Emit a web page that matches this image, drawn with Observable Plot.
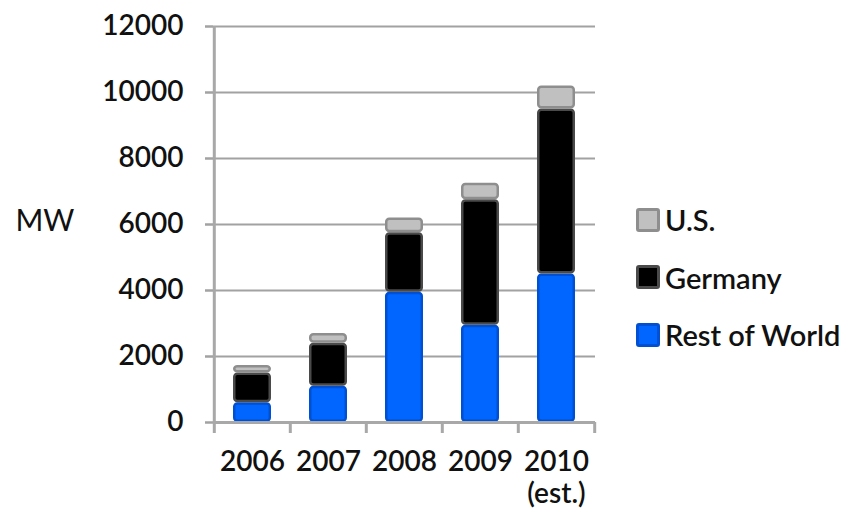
<!DOCTYPE html>
<html>
<head>
<meta charset="utf-8">
<script src="https://cdn.jsdelivr.net/npm/d3@7"></script>
<script src="https://cdn.jsdelivr.net/npm/@observablehq/plot@0.6"></script>
<style>
  body { margin: 0; background: #fff; font-family: Lato, "Open Sans", sans-serif; }
  #wrap { position: relative; width: 846px; height: 532px; overflow: hidden; }
  #legend { position: absolute; left: 636px; top: 191px; }
  .item { display: flex; align-items: center; height: 57.5px; font-size: 29px; font-weight: 600; color: #111; white-space: nowrap; }
  .sw { width: 24px; height: 24px; box-sizing: border-box; border-radius: 3px; margin-right: 5px; }
</style>
</head>
<body>
<div id="wrap"><div id="legend"></div></div>
<script>
// ---- data ----
const years = ["2006", "2007", "2008", "2009", "2010"];
const yearLabels = ["2006", "2007", "2008", "2009", "2010\n(est.)"];
const seriesNames = ["Rest of World", "Germany", "U.S."];
const restOfWorld = [600, 1100, 3950, 2950, 4500];
const germany = [900, 1300, 1800, 3800, 5000];
const us = [230, 300, 450, 500, 700];
const yTicks = [0, 2000, 4000, 6000, 8000, 10000, 12000];
const legendOrder = ["U.S.", "Germany", "Rest of World"];

// ---- styles ----
const fills = {"Rest of World": "#0066ff", "Germany": "#000000", "U.S.": "#c0c0c0"};
const strokes = {"Rest of World": "#0050d4", "Germany": "#4a4a4a", "U.S.": "#8e8e8e"};
const gridColor = "#a2a2a2";

const values = {"Rest of World": restOfWorld, "Germany": germany, "U.S.": us};
const rows = [];
years.forEach((y, i) => seriesNames.forEach(s => rows.push({year: y, series: s, value: values[s][i]})));

const W = 846, H = 532, mL = 213, mR = 251, mT = 26, mB = 110;
const step = (W - mL - mR) / years.length;

const chart = Plot.plot({
  width: W, height: H,
  marginLeft: mL, marginRight: mR, marginTop: mT, marginBottom: mB,
  style: {fontFamily: "Lato, 'Open Sans', sans-serif", fontWeight: 600, color: "#111", background: "white", overflow: "visible"},
  x: {domain: years, paddingInner: 0.5, paddingOuter: 0.25, label: null},
  y: {domain: [0, 12000], label: null},
  color: {type: "identity"},
  marks: [
    Plot.ruleY(yTicks.slice(1), {stroke: gridColor, strokeWidth: 2.2}),
    Plot.axisY({ticks: yTicks, tickSize: 8, tickPadding: 22, stroke: gridColor, strokeWidth: 2.5, fontSize: 28, label: null, tickFormat: d => String(d)}),
    Plot.ruleX([years[0]], {dx: -step / 2, y1: 0, y2: 12000, stroke: "#a8a8a8", strokeWidth: 3}),
    Plot.axisX({ticks: years, tickSize: 11, dx: -step / 2, stroke: "#a8a8a8", strokeWidth: 3, tickFormat: () => "", label: null}),
    Plot.axisX({ticks: [years[years.length - 1]], tickSize: 11, dx: step / 2, stroke: "#a8a8a8", strokeWidth: 3, tickFormat: () => "", label: null}),
    Plot.barY(rows, Plot.stackY({
      x: "year", y: "value", z: "series",
      fill: d => fills[d.series], stroke: d => strokes[d.series],
      strokeWidth: 2.5, inset: 1.25, rx: 3
    })),
    Plot.ruleY([0], {stroke: "#a8a8a8", strokeWidth: 3}),
    Plot.axisX({ticks: years, tickSize: 0, tickPadding: 25, fontSize: 28, lineHeight: 1.16, label: null,
      tickFormat: d => yearLabels[years.indexOf(d)]}),
    Plot.text(["MW"], {frameAnchor: "left", dx: -198, dy: -3, textAnchor: "start", lineAnchor: "middle", fontSize: 30, fontWeight: 400, fill: "#111"})
  ]
});
chart.style.position = "absolute";
chart.style.left = "0px";
chart.style.top = "0px";
const wrap = document.getElementById("wrap");
wrap.insertBefore(chart, wrap.firstChild);

const legend = document.getElementById("legend");
legendOrder.forEach(s => {
  const item = document.createElement("div");
  item.className = "item";
  const sw = document.createElement("div");
  sw.className = "sw";
  sw.style.background = fills[s];
  sw.style.border = `3px solid ${strokes[s]}`;
  const t = document.createElement("span");
  t.textContent = s;
  item.appendChild(sw);
  item.appendChild(t);
  legend.appendChild(item);
});
</script>
</body>
</html>
